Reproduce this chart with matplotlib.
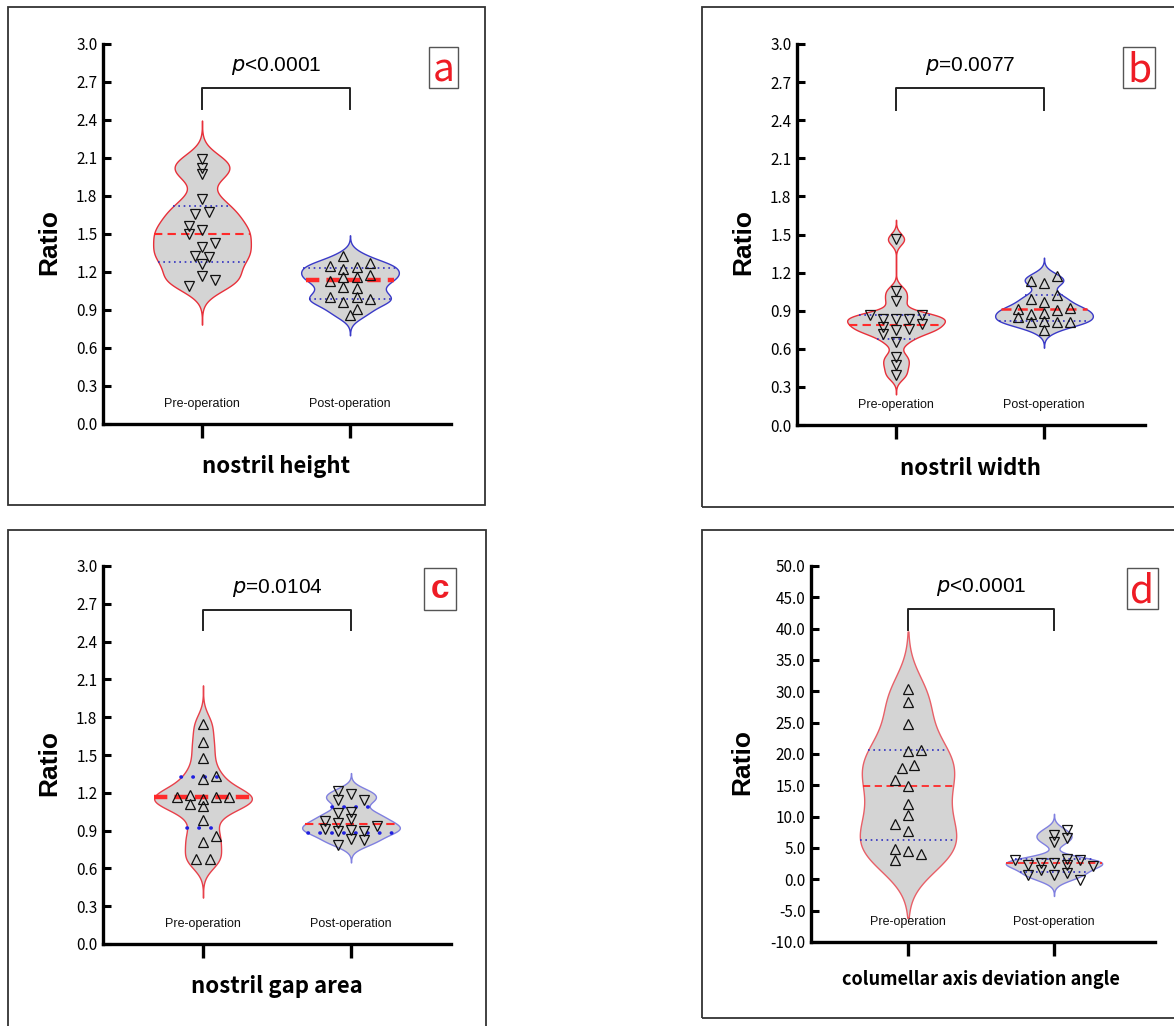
import numpy as np
import matplotlib
matplotlib.use("Agg")
import matplotlib.pyplot as plt
from matplotlib.patches import Rectangle
from matplotlib.transforms import blended_transform_factory

# ================= Data ================= #
groups = ["Pre-operation", "Post-operation"]
titles = ["nostril height", "nostril width", "nostril gap area",
          "columellar axis deviation angle"]
letters = ["a", "b", "c", "d"]
pvalues = ["<0.0001", "=0.0077", "=0.0104", "<0.0001"]

a_pre = [2.09, 2.02, 1.97, 1.78, 1.66, 1.67, 1.56, 1.50, 1.53, 1.40, 1.43,
         1.33, 1.32, 1.26, 1.17, 1.14, 1.09]
a_pre_lane = [0, 0, 0, 0, -1, 1, -2, -2, 0, 0, 2, -1, 1, 0, 0, 2, -2]
a_post = [1.33, 1.25, 1.27, 1.22, 1.24, 1.16, 1.16, 1.18, 1.13, 1.08, 1.07,
          1.00, 1.00, 0.985, 0.96, 0.91, 0.86]
a_post_lane = [-1, -3, 3, -1, 1, -1, 1, 3, -3, -1, 1, -3, 1, 3, -1, 1, 0]

b_pre = [1.463, 1.055, 0.976, 0.866, 0.866, 0.835, 0.835, 0.835, 0.769, 0.748,
         0.756, 0.793, 0.714, 0.656, 0.538, 0.472, 0.394]
b_pre_lane = [0, 0, 0, -4, 4, -2, 0, 2, -2, 0, 2, 4, -2, 0, 0, 0, 0]
b_post = [1.177, 1.135, 1.122, 0.993, 1.024, 0.967, 0.914, 0.906, 0.919, 0.872,
          0.880, 0.854, 0.814, 0.822, 0.809, 0.809, 0.749]
b_post_lane = [2, -2, 0, -2, 2, 0, -4, 2, 4, -2, 0, -4, -2, 0, 2, 4, 0]

c_pre = [1.747, 1.602, 1.475, 1.335, 1.311, 1.166, 1.179, 1.166, 1.166, 1.113,
         1.153, 1.092, 0.981, 0.859, 0.809, 0.674, 0.674]
c_pre_lane = [0, 0, 0, 2, 0, -4, -2, 2, 4, -2, 0, 0, 0, 2, 0, -1, 1]
c_post = [1.216, 1.190, 1.145, 1.139, 1.039, 1.047, 0.994, 0.978, 0.915, 0.960,
          0.938, 0.893, 0.907, 0.893, 0.835, 0.827, 0.788]
c_post_lane = [-2, 0, 2, -2, -2, 0, 0, -4, -4, -2, 4, -2, 0, 2, 0, 2, -2]

d_pre = [30.3, 28.3, 24.8, 20.5, 20.7, 17.7, 18.2, 15.8, 14.9, 12.1, 10.2,
         8.8, 7.7, 4.9, 4.5, 4.1, 3.1]
d_pre_lane = [0, 0, 0, 0, 2, -1, 1, -2, 0, 0, 0, -2, 0, -2, 0, 2, -2]
d_post = [7.9, 7.1, 6.65, 5.9, 3.1, 3.2, 3.1, 2.3, 2.66, 2.66, 2.3, 2.2,
          1.5, 0.7, 0.7, 0.96, -0.1]
d_post_lane = [2, 0, 2, 0, -6, 2, 4, -4, -2, 0, 2, 6, -2, -4, 0, 2, 4]

# median, lower quartile, upper quartile as drawn
a_stats = [(1.50, 1.28, 1.72), (1.14, 0.99, 1.23)]
b_stats = [(0.79, 0.68, 0.87), (0.91, 0.82, 1.02)]
c_stats = [(1.165, 0.92, 1.325), (0.95, 0.88, 1.09)]
d_stats = [(14.9, 6.3, 20.6), (2.6, 1.2, 3.2)]

ratio_ticks = [0.0, 0.3, 0.6, 0.9, 1.2, 1.5, 1.8, 2.1, 2.4, 2.7, 3.0]
angle_ticks = [-10.0, -5.0, 0.0, 5.0, 10.0, 15.0, 20.0, 25.0, 30.0, 35.0,
               40.0, 45.0, 50.0]

# ================= Layout (pixels of the 1174x1026 canvas) ================= #
W, H = 1174, 1026
FILL = "#d4d4d4"
HALF = 0.33      # max half width of a violin, x units
STEP = 0.044     # lane spacing of the points

panels = [
    dict(data=(a_pre, a_post), lanes=(a_pre_lane, a_post_lane), stats=a_stats,
         markers=("v", "^"), ticks=ratio_ticks, box=(103, 451, 44, 424),
         xt=(202, 350), border=(8, 7, 485, 505), lbox=(429, 47, 458, 88),
         bw=(0.085, 0.05), tail=(3.6, 3.2), edge=("#e8303a", "#3a3ac8"),
         medlw=(1.5, 3.2), qstyle="thin", bracket=(2.49, 2.65), xlfs=16),
    dict(data=(b_pre, b_post), lanes=(b_pre_lane, b_post_lane), stats=b_stats,
         markers=("v", "^"), ticks=ratio_ticks, box=(797, 1145, 44, 425),
         xt=(896, 1044), border=(702, 7, 1180, 507), lbox=(1123, 47, 1155, 88),
         bw=(0.045, 0.044), tail=(3.4, 3.2), edge=("#e8303a", "#3a3ac8"),
         medlw=(1.5, 1.8), qstyle="thin", bracket=(2.48, 2.65), xlfs=16),
    dict(data=(c_pre, c_post), lanes=(c_pre_lane, c_post_lane), stats=c_stats,
         markers=("^", "v"), ticks=ratio_ticks, box=(103, 451, 566, 944),
         xt=(203, 351), border=(8, 530, 486, 1032), lbox=(424, 568, 456, 610),
         bw=(0.085, 0.044), tail=(3.6, 3.2), edge=("#e8404a", "#8080e0"),
         medlw=(3.2, 1.5), qstyle="dots", bracket=(2.49, 2.65), xlfs=16),
    dict(data=(d_pre, d_post), lanes=(d_pre_lane, d_post_lane), stats=d_stats,
         markers=("^", "v"), ticks=angle_ticks, box=(811, 1155, 566, 942),
         xt=(908, 1054), border=(702, 530, 1180, 1018), lbox=(1127, 568, 1158, 609),
         bw=(3.7, 0.8), tail=(2.5, 3.2), edge=("#e86068", "#8080e0"),
         medlw=(1.3, 1.3), qstyle="thin", bracket=(39.8, 43.2), xlfs=13),
]

plt.rcParams["font.family"] = ["Noto Sans CJK JP", "DejaVu Sans"]
fig = plt.figure(figsize=(W / 100, H / 100), dpi=100)


def fig_rect(x0, y0, x1, y1):
    return [x0 / W, 1 - y1 / H, (x1 - x0) / W, (y1 - y0) / H]


def violin(ax, pos, vals, bw, tail, edge):
    vals = np.asarray(vals)
    y = np.linspace(vals.min() - tail * bw, vals.max() + tail * bw, 500)
    dens = np.exp(-0.5 * ((y[:, None] - vals[None, :]) / bw) ** 2).sum(axis=1)
    half = dens / dens.max() * HALF
    ax.fill_betweenx(y, pos - half, pos + half, facecolor=FILL,
                     edgecolor=edge, linewidth=1.0, zorder=1)
    return y, half


for i, p in enumerate(panels):
    # panel frame
    bx0, by0, bx1, by1 = p["border"]
    fig.add_artist(Rectangle((bx0 / W, 1 - by1 / H), (bx1 - bx0) / W,
                             (by1 - by0) / H, transform=fig.transFigure,
                             fill=False, edgecolor="#333333", linewidth=1.3))

    left, right, top, bottom = p["box"]
    ax = fig.add_axes(fig_rect(left, top, right, bottom))
    scale = p["xt"][1] - p["xt"][0]
    ax.set_xlim(1 - (p["xt"][0] - left) / scale, 2 + (right - p["xt"][1]) / scale)
    ax.set_ylim(p["ticks"][0], p["ticks"][-1])
    xdata_yaxes = blended_transform_factory(ax.transData, ax.transAxes)

    for k in range(2):
        pos = k + 1
        vals = p["data"][k]
        y, half = violin(ax, pos, vals, p["bw"][k], p["tail"][k], p["edge"][k])
        med, q1, q3 = p["stats"][k]
        w = np.interp(med, y, half)
        ax.plot([pos - w, pos + w], [med, med], color="#ff2a2a",
                linestyle=(0, (4, 2.5)) if p["medlw"][k] < 2 else (0, (3, 1.6)),
                linewidth=p["medlw"][k], zorder=2)
        for q in (q1, q3):
            w = np.interp(q, y, half)
            if p["qstyle"] == "dots":
                ax.plot([pos - w, pos + w], [q, q], color="#2020e0",
                        linestyle=(0, (0.1, 3.2)), dash_capstyle="round",
                        linewidth=2.6, zorder=2)
            else:
                ax.plot([pos - w, pos + w], [q, q], color="#3030c0",
                        linestyle=(0, (1, 2.2)), linewidth=1.2, zorder=2)
        xs = pos + np.asarray(p["lanes"][k]) * STEP
        ax.plot(xs, vals, linestyle="none", marker=p["markers"][k],
                markersize=6.5, markerfacecolor="none",
                markeredgecolor="#111111", markeredgewidth=0.9, zorder=3)
        ax.text(pos, 0.053, groups[k], transform=xdata_yaxes, ha="center",
                va="center", fontsize=9, family="Liberation Sans",
                color="#111111")

    # significance bracket
    b0, b1 = p["bracket"]
    ax.plot([1, 1, 2, 2], [b0, b1, b1, b0], color="#222222", linewidth=1.4,
            clip_on=False)
    ax.text(1.5, 0.943, "$\\it{p}$" + pvalues[i], transform=xdata_yaxes,
            ha="center", va="center", fontsize=15, family="Liberation Sans")

    # axes styling
    for s in ("top", "right"):
        ax.spines[s].set_visible(False)
    for s in ("left", "bottom"):
        ax.spines[s].set_linewidth(2.4)
    ax.set_yticks(p["ticks"])
    ax.set_yticklabels(["%.1f" % t for t in p["ticks"]])
    ax.set_xticks([1, 2])
    ax.set_xticklabels(["", ""])
    ax.tick_params(axis="y", direction="in", length=6, width=2.2, pad=4,
                   labelsize=11)
    ax.tick_params(axis="x", direction="out", length=10, width=2.4)
    ax.text(-0.155 if i != 3 else -0.2, 0.48, "Ratio", transform=ax.transAxes,
            rotation=90, ha="center", va="center", fontsize=19,
            fontweight="bold", family="Liberation Sans")
    ax.text(1.5, -0.113 if i != 3 else -0.101, titles[i],
            transform=xdata_yaxes, ha="center", va="center",
            fontsize=p["xlfs"], fontweight="bold")

    # letter box
    lx0, ly0, lx1, ly1 = p["lbox"]
    fig.add_artist(Rectangle((lx0 / W, 1 - ly1 / H), (lx1 - lx0) / W,
                             (ly1 - ly0) / H, transform=fig.transFigure,
                             fill=False, edgecolor="#555555", linewidth=1.0))
    if letters[i] == "c":
        fig.text((lx0 + lx1) / 2 / W, 1 - (ly0 + ly1) / 2 / H, "c",
                 ha="center", va="center", color="#ee1c25", fontsize=24,
                 fontweight="bold", family="Liberation Sans")
    else:
        fig.text((lx0 + lx1) / 2 / W, 1 - (ly0 + ly1) / 2 / H - 0.003,
                 letters[i], ha="center", va="center", color="#ee1c25",
                 fontsize=28)

fig.savefig("out.png", dpi=100)
